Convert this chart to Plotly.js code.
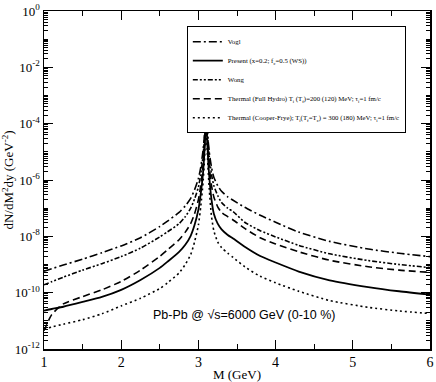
<!DOCTYPE html>
<html>
<head>
<meta charset="utf-8">
<script src="https://cdn.plot.ly/plotly-3.0.1.min.js"></script>
<style>html,body{margin:0;padding:0;background:#fff;}#chart{width:436px;height:382px;}</style>
</head>
<body>
<div id="chart"></div>
<script>
// Invariant mass grid (GeV)
const mass = [1.0, 1.1, 1.25, 1.5, 1.75, 2.0, 2.25, 2.5, 2.6, 2.75, 2.83, 2.9, 2.95, 3.0, 3.03, 3.06, 3.08, 3.09, 3.1, 3.11, 3.12, 3.14, 3.17, 3.2, 3.25, 3.3, 3.38, 3.45, 3.6, 3.8, 4.0, 4.3, 4.7, 5.2, 5.6, 6.0];
// log10 of dN/dM^2dy
const voglLog    = [-9.24, -9.15, -9.02, -8.81, -8.58, -8.34, -8.05, -7.65, -7.46, -7.15, -6.92, -6.65, -6.35, -5.95, -5.55, -4.95, -4.35, -3.9, -3.25, -3.9, -4.4, -5.0, -5.55, -5.9, -6.2, -6.4, -6.6, -6.72, -6.97, -7.25, -7.5, -7.85, -8.18, -8.45, -8.6, -8.72];
const presentLog = [-10.64, -10.58, -10.5, -10.33, -10.15, -9.9, -9.55, -9.12, -8.9, -8.55, -8.3, -7.98, -7.6, -7.05, -6.5, -5.75, -4.9, -4.3, -3.3, -4.3, -4.95, -5.85, -6.7, -7.2, -7.55, -7.75, -7.95, -8.08, -8.37, -8.7, -8.93, -9.25, -9.56, -9.8, -9.95, -10.07];
const wongLog    = [-9.72, -9.61, -9.45, -9.2, -8.97, -8.72, -8.42, -8.02, -7.84, -7.55, -7.3, -7.0, -6.68, -6.25, -5.8, -5.15, -4.5, -4.0, -3.3, -4.0, -4.5, -5.15, -5.8, -6.2, -6.55, -6.8, -7.0, -7.12, -7.5, -7.8, -8.02, -8.32, -8.62, -8.86, -9.0, -9.11];
const hydroLog   = [-11.35, -10.78, -10.4, -10.14, -9.9, -9.6, -9.2, -8.71, -8.48, -8.12, -7.85, -7.55, -7.2, -6.7, -6.2, -5.5, -4.75, -4.2, -3.35, -4.2, -4.75, -5.5, -6.2, -6.6, -6.95, -7.15, -7.3, -7.42, -7.72, -8.05, -8.27, -8.55, -8.85, -9.08, -9.2, -9.28];
const cooperLog  = [-11.28, -11.22, -11.12, -10.96, -10.75, -10.47, -10.2, -9.85, -9.65, -9.3, -9.0, -8.65, -8.2, -7.6, -6.95, -6.1, -5.2, -4.5, -3.4, -4.6, -5.3, -6.3, -7.3, -7.8, -8.2, -8.4, -8.6, -8.75, -9.08, -9.42, -9.65, -9.95, -10.28, -10.52, -10.65, -10.74];

const names = [
  'Vogl',
  'Present (x=0.2; f<sub>c</sub>=0.5 (WS))',
  'Wong',
  'Thermal (Full Hydro) T<sub>i</sub> (T<sub>f</sub>)=200 (120) MeV; τ<sub>i</sub>=1 fm/c',
  'Thermal (Cooper-Frye); T<sub>i</sub>(T<sub>f</sub>=T<sub>c</sub>) = 300 (180) MeV; τ<sub>i</sub>=1 fm/c'
];
const xTickVals = [1, 2, 3, 4, 5, 6];
const yTickExp = [0, -2, -4, -6, -8, -10, -12];
const annotationText = 'Pb-Pb @ √s=6000 GeV (0-10 %)';

const toVal = a => a.map(v => Math.pow(10, v));
const series = [voglLog, presentLog, wongLog, hydroLog, cooperLog];
const dashes = ['8px,3px,2px,3px', 'solid', '5px,2px,2px,2px,2px,2px', '7px,4px', '2px,3px'];
const traces = series.map((s, i) => ({
  x: mass, y: toVal(s), name: names[i], type: 'scatter', mode: 'lines',
  line: {color: '#000', width: i === 1 ? 1.8 : 1.6, dash: dashes[i], shape: 'spline', smoothing: 0.6}
}));

const minorY = [];
for (let d = -12; d < 0; d++) {
  for (let k = 2; k <= 9; k++) minorY.push(k * Math.pow(10, d));
  if (d % 2 !== 0) minorY.push(Math.pow(10, d));
}

const serif = 'Liberation Serif, Times New Roman, serif';
const layout = {
  width: 436, height: 382,
  margin: {l: 44, r: 6, t: 11, b: 33, autoexpand: false},
  paper_bgcolor: '#fff', plot_bgcolor: '#fff',
  showlegend: true,
  legend: {
    x: 0.37, y: 0.955, xanchor: 'left', yanchor: 'top',
    bordercolor: '#000', borderwidth: 1, bgcolor: '#fff',
    font: {family: serif, size: 6.8, color: '#000'},
    tracegroupgap: 0, itemwidth: 30
  },
  xaxis: {
    range: [1, 6], tickmode: 'array', tickvals: xTickVals,
    ticks: 'inside', ticklen: 9, tickwidth: 1, tickcolor: '#000',
    showline: true, linecolor: '#000', linewidth: 1.5, mirror: 'allticks',
    showgrid: false, zeroline: false,
    tickfont: {family: serif, size: 14, color: '#000'},
    minor: {tickmode: 'linear', tick0: 1.5, dtick: 1, ticks: 'inside', ticklen: 5, tickcolor: '#000', showgrid: false},
    title: {text: 'M (GeV)', font: {family: serif, size: 13, color: '#000'}, standoff: 4}
  },
  yaxis: {
    type: 'log', range: [-12, 0], tickmode: 'array',
    tickvals: yTickExp.map(e => Math.pow(10, e)),
    ticktext: yTickExp.map(e => '10<sup>' + e + '</sup>'),
    ticks: 'inside', ticklen: 9, tickwidth: 1, tickcolor: '#000',
    showline: true, linecolor: '#000', linewidth: 1.5, mirror: 'allticks',
    showgrid: false, zeroline: false,
    tickfont: {family: serif, size: 13, color: '#000'},
    minor: {tickmode: 'array', tickvals: minorY, ticks: 'inside', ticklen: 4, tickcolor: '#000', showgrid: false},
    title: {text: 'dN/dM<sup>2</sup>dy (GeV<sup>-2</sup>)', font: {family: serif, size: 13, color: '#000'}, standoff: 2}
  },
  annotations: [{
    text: annotationText, xref: 'x', yref: 'paper', x: 2.38, y: 0.1, xanchor: 'left', yanchor: 'middle',
    showarrow: false, font: {family: 'Liberation Sans, Arial, sans-serif', size: 12.5, color: '#000'}
  }]
};

Plotly.newPlot('chart', traces, layout, {displayModeBar: false, staticPlot: true});
</script>
</body>
</html>
